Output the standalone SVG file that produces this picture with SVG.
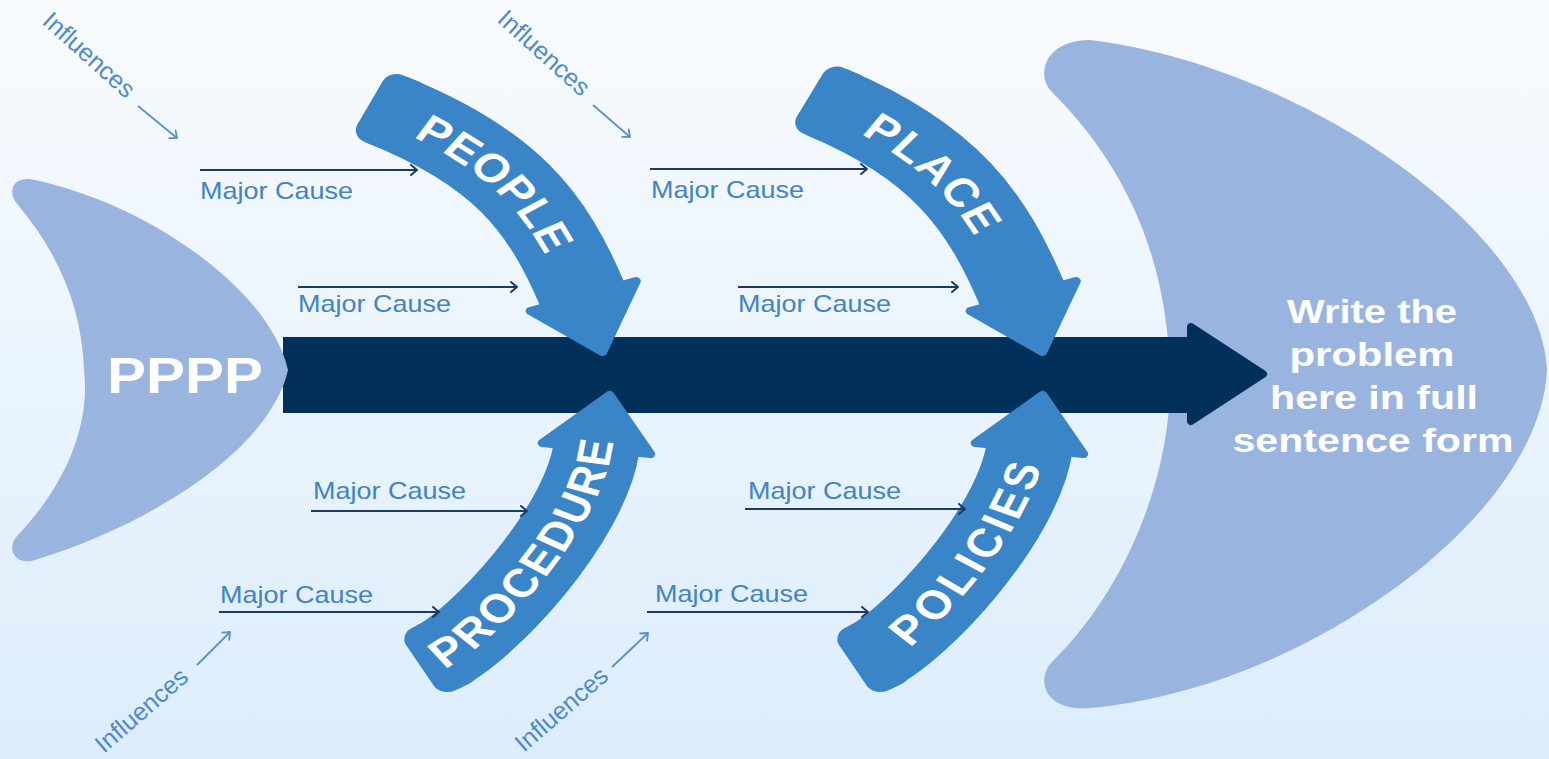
<svg xmlns="http://www.w3.org/2000/svg" width="1549" height="759" viewBox="0 0 1549 759">
<defs>
<linearGradient id="bg" x1="0" y1="0" x2="0" y2="1">
<stop offset="0" stop-color="#f8fbfe"/>
<stop offset="1" stop-color="#dcedfb"/>
</linearGradient>
<marker id="mc" markerUnits="userSpaceOnUse" markerWidth="14" markerHeight="14" viewBox="0 0 14 14" refX="12" refY="7" orient="auto">
<path d="M6,2 L12,7 L6,12" fill="none" stroke="#1e3a5f" stroke-width="2" stroke-linecap="round" stroke-linejoin="round"/>
</marker>
<marker id="mi" markerUnits="userSpaceOnUse" markerWidth="14" markerHeight="14" viewBox="0 0 14 14" refX="12" refY="7" orient="auto">
<path d="M6,2 L12,7 L6,12" fill="none" stroke="#5b90cb" stroke-width="1.8" stroke-linecap="round" stroke-linejoin="round"/>
</marker>
<style>
.fish{fill:#99b5df}
.spine{fill:#01305a}
.spinehead{fill:#01305a;stroke:#01305a;stroke-width:8;stroke-linejoin:round}
.bone{fill:none;stroke:#3985c7;stroke-width:74}
.bone2{fill:none;stroke:#3985c7;stroke-width:72}
.cap{fill:#3985c7}
.ahead{fill:#3985c7;stroke:#3985c7;stroke-width:8;stroke-linejoin:round}
.bt{font-family:"Liberation Sans",Arial,sans-serif;font-weight:bold;font-size:40px;fill:#ffffff}
.big{font-family:"Liberation Sans",Arial,sans-serif;font-weight:bold;fill:#ffffff}
.mct{font-family:"Liberation Sans",Arial,sans-serif;font-size:24px;fill:#4283c6}
.inf{font-family:"Liberation Sans",Arial,sans-serif;font-size:25px;fill:#4f8acb}
.mcl{stroke:#1e3a5f;stroke-width:2;fill:none}
.infl{stroke:#5b90cb;stroke-width:1.8;fill:none}
</style>
</defs>
<rect x="0" y="0" width="1549" height="759" fill="url(#bg)"/>

<g id="head">
<path class="fish" d="M1052,92 C1035,75 1045,40 1090,40 C1300,65 1540,230 1547,370 C1540,520 1300,690 1090,708 C1045,712 1035,680 1052,662 C1130,585 1172,470 1170,375 C1168,280 1140,180 1052,92 Z"/>
</g>

<g id="spine">
<rect class="spine" x="283" y="337" width="912" height="76"/>
<polygon class="spinehead" points="1191,327 1263,374 1191,421"/>
</g>

<g id="tail">
<path class="fish" d="M18,205 C5,190 15,175 35,180 C150,205 270,290 288,370 C270,450 150,525 35,560 C15,566 5,548 18,535 C70,480 90,420 84,370 C82,310 60,255 18,205 Z"/>
<text class="big" x="185" y="393" font-size="50" text-anchor="middle" textLength="156" lengthAdjust="spacingAndGlyphs">PPPP</text>
</g>

<g id="bone-people" transform="scale(1.2,1)">
<rect class="cap" x="0" y="-37" width="40" height="74" rx="13" transform="translate(308.3,103) rotate(25.9)"/>
<path id="pPeople" class="bone" d="M322.7,110 C420.7,157.6 456,211 485.8,296 l3.3,9.4"/>
<polygon class="ahead" points="442,311 530,281 502,352"/>
<text class="bt" dy="14" text-anchor="middle" letter-spacing="2"><textPath href="#pPeople" startOffset="45%">PEOPLE</textPath></text>
</g>

<g id="bone-place" transform="translate(440,0) scale(1.2,1)">
<rect class="cap" x="0" y="-37" width="40" height="74" rx="13" transform="translate(308.3,95) rotate(27)"/>
<path id="pPlace" class="bone" d="M322.5,102.3 C420.7,152 456,211 485.8,296 l3.3,9.4"/>
<polygon class="ahead" points="442,311 530,281 502,352"/>
<text class="bt" dy="14" text-anchor="middle" letter-spacing="3"><textPath href="#pPlace" startOffset="43%">PLACE</textPath></text>
</g>

<g id="bone-procedure" transform="scale(1.2,1)">
<rect class="cap" x="0" y="-36" width="40" height="72" rx="13" transform="translate(350,665.5) rotate(-29.6)"/>
<path id="pProc" class="bone2" d="M363.9,657.6 C402.2,635.9 486.4,527.2 497,448.5 l1.1,-8"/>
<polygon class="ahead" points="452,443 542,454 508,395"/>
<text class="bt" font-size="38" dy="13" text-anchor="middle" letter-spacing="1"><textPath href="#pProc" startOffset="50%">PROCEDURE</textPath></text>
</g>

<g id="bone-policies" transform="translate(433,0) scale(1.2,1)">
<rect class="cap" x="0" y="-36" width="40" height="72" rx="13" transform="translate(350,665.5) rotate(-29.6)"/>
<path id="pPol" class="bone2" d="M363.9,657.6 C402.2,635.9 486.4,527.2 497,448.5 l1.1,-8"/>
<polygon class="ahead" points="452,443 542,454 508,395"/>
<text class="bt" font-size="38" dy="13" text-anchor="middle" letter-spacing="3"><textPath href="#pPol" startOffset="52%">POLICIES</textPath></text>
</g>

<g id="problem">
<text class="big" font-size="33" text-anchor="middle" x="1372" y="323" textLength="170" lengthAdjust="spacingAndGlyphs">Write the</text>
<text class="big" font-size="33" text-anchor="middle" x="1372" y="366" textLength="165" lengthAdjust="spacingAndGlyphs">problem</text>
<text class="big" font-size="33" text-anchor="middle" x="1374" y="409" textLength="208" lengthAdjust="spacingAndGlyphs">here in full</text>
<text class="big" font-size="33" text-anchor="middle" x="1373" y="452" textLength="281" lengthAdjust="spacingAndGlyphs">sentence form</text>
</g>

<g id="labels">
<text class="mct" x="200" y="199" textLength="153" lengthAdjust="spacingAndGlyphs">Major Cause</text>
<text class="mct" x="298" y="312" textLength="153" lengthAdjust="spacingAndGlyphs">Major Cause</text>
<text class="mct" x="651" y="198" textLength="153" lengthAdjust="spacingAndGlyphs">Major Cause</text>
<text class="mct" x="738" y="312" textLength="153" lengthAdjust="spacingAndGlyphs">Major Cause</text>
<text class="mct" x="313" y="499" textLength="153" lengthAdjust="spacingAndGlyphs">Major Cause</text>
<text class="mct" x="220" y="603" textLength="153" lengthAdjust="spacingAndGlyphs">Major Cause</text>
<text class="mct" x="748" y="499" textLength="153" lengthAdjust="spacingAndGlyphs">Major Cause</text>
<text class="mct" x="655" y="602" textLength="153" lengthAdjust="spacingAndGlyphs">Major Cause</text>
<text class="inf" transform="translate(41,23) rotate(42)">Influences</text>
<text class="inf" transform="translate(496,21) rotate(42)">Influences</text>
<text class="inf" transform="translate(104,754) rotate(-41)">Influences</text>
<text class="inf" transform="translate(524,753) rotate(-41)">Influences</text>
</g>

<g id="connectors">
<line class="mcl" x1="200" y1="170" x2="417" y2="170" marker-end="url(#mc)"/>
<line class="mcl" x1="298" y1="287" x2="517" y2="287" marker-end="url(#mc)"/>
<line class="mcl" x1="650" y1="169" x2="867" y2="169" marker-end="url(#mc)"/>
<line class="mcl" x1="738" y1="287" x2="958" y2="287" marker-end="url(#mc)"/>
<line class="mcl" x1="311" y1="511" x2="527" y2="511" marker-end="url(#mc)"/>
<line class="mcl" x1="219" y1="612" x2="439" y2="612" marker-end="url(#mc)"/>
<line class="mcl" x1="745" y1="509" x2="965" y2="509" marker-end="url(#mc)"/>
<line class="mcl" x1="647" y1="612" x2="868" y2="612" marker-end="url(#mc)"/>
<line class="infl" x1="138" y1="106" x2="177" y2="138" marker-end="url(#mi)"/>
<line class="infl" x1="593" y1="105" x2="630" y2="137" marker-end="url(#mi)"/>
<line class="infl" x1="197" y1="665" x2="230" y2="632" marker-end="url(#mi)"/>
<line class="infl" x1="612" y1="667" x2="648" y2="633" marker-end="url(#mi)"/>
</g>
</svg>
